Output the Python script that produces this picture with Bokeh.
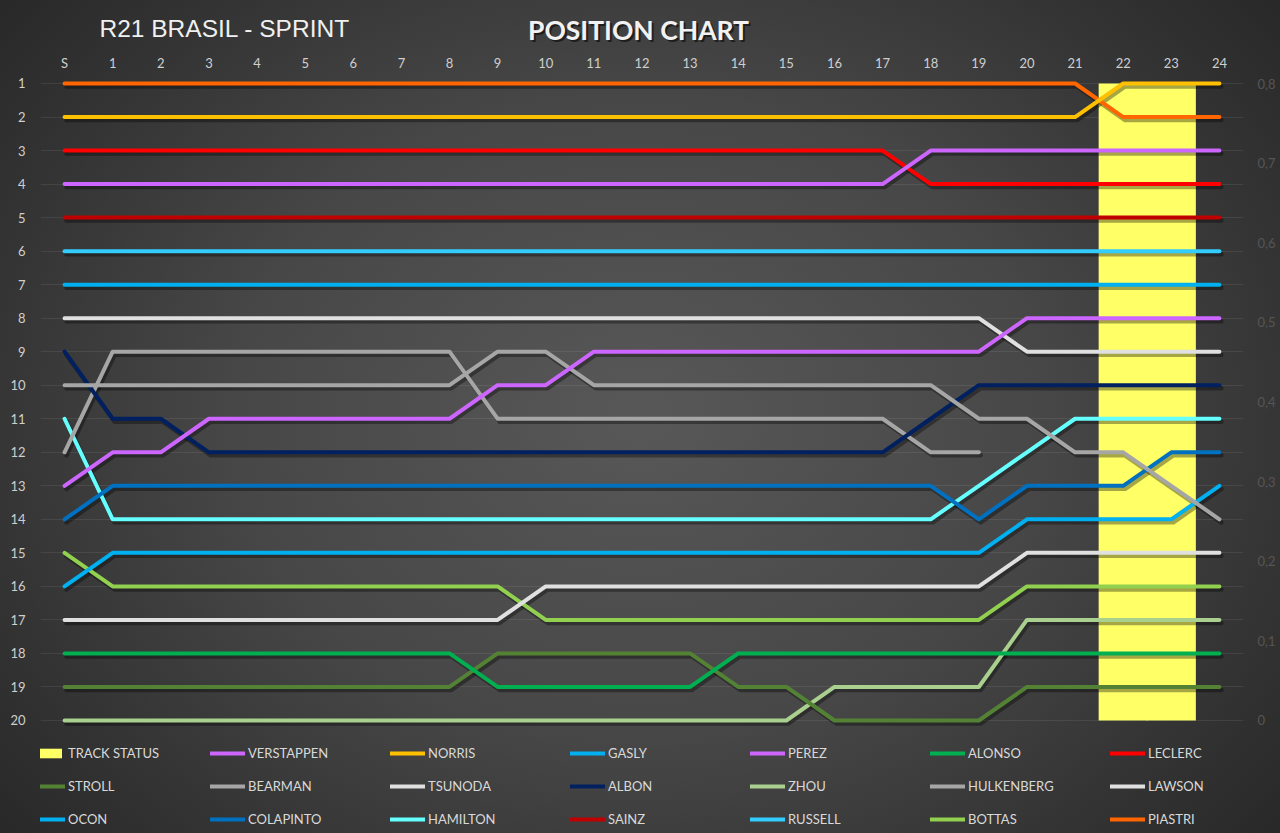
from bokeh.plotting import figure
from bokeh.layouts import column
from bokeh.models import Range1d, LinearAxis, FixedTicker, Legend, LegendItem, Label, ColumnDataSource
from bokeh.transform import dodge
from bokeh.embed import file_html
from bokeh.resources import INLINE

nan = float("nan")

# ---------------- data ----------------
laps = [0, 1, 2, 3, 4, 5, 6, 7, 8, 9, 10, 11, 12, 13, 14, 15, 16, 17, 18, 19, 20, 21, 22, 23, 24]
lap_labels = ["S", "1", "2", "3", "4", "5", "6", "7", "8", "9", "10", "11", "12",
              "13", "14", "15", "16", "17", "18", "19", "20", "21", "22", "23", "24"]
position_ticks = [1, 2, 3, 4, 5, 6, 7, 8, 9, 10, 11, 12, 13, 14, 15, 16, 17, 18, 19, 20]
status_ticks = [0, 0.1, 0.2, 0.3, 0.4, 0.5, 0.6, 0.7, 0.8]
status_labels = ["0", "0,1", "0,2", "0,3", "0,4", "0,5", "0,6", "0,7", "0,8"]

track_status = [0, 0, 0, 0, 0, 0, 0, 0, 0, 0, 0, 0, 0, 0, 0, 0, 0, 0, 0, 0, 0, 0, 0.8, 0.8, 0]

VERSTAPPEN = [4, 4, 4, 4, 4, 4, 4, 4, 4, 4, 4, 4, 4, 4, 4, 4, 4, 4, 3, 3, 3, 3, 3, 3, 3]
NORRIS     = [2, 2, 2, 2, 2, 2, 2, 2, 2, 2, 2, 2, 2, 2, 2, 2, 2, 2, 2, 2, 2, 2, 1, 1, 1]
GASLY      = [7, 7, 7, 7, 7, 7, 7, 7, 7, 7, 7, 7, 7, 7, 7, 7, 7, 7, 7, 7, 7, 7, 7, 7, 7]
PEREZ      = [13, 12, 12, 11, 11, 11, 11, 11, 11, 10, 10, 9, 9, 9, 9, 9, 9, 9, 9, 9, 8, 8, 8, 8, 8]
ALONSO     = [18, 18, 18, 18, 18, 18, 18, 18, 18, 19, 19, 19, 19, 19, 18, 18, 18, 18, 18, 18, 18, 18, 18, 18, 18]
LECLERC    = [3, 3, 3, 3, 3, 3, 3, 3, 3, 3, 3, 3, 3, 3, 3, 3, 3, 3, 4, 4, 4, 4, 4, 4, 4]
STROLL     = [19, 19, 19, 19, 19, 19, 19, 19, 19, 18, 18, 18, 18, 18, 19, 19, 20, 20, 20, 20, 19, 19, 19, 19, 19]
BEARMAN    = [10, 10, 10, 10, 10, 10, 10, 10, 10, 9, 9, 10, 10, 10, 10, 10, 10, 10, 10, 11, 11, 12, 12, 13, 14]
TSUNODA    = [17, 17, 17, 17, 17, 17, 17, 17, 17, 17, 16, 16, 16, 16, 16, 16, 16, 16, 16, 16, 15, 15, 15, 15, 15]
ALBON      = [9, 11, 11, 12, 12, 12, 12, 12, 12, 12, 12, 12, 12, 12, 12, 12, 12, 12, 11, 10, 10, 10, 10, 10, 10]
ZHOU       = [20, 20, 20, 20, 20, 20, 20, 20, 20, 20, 20, 20, 20, 20, 20, 20, 19, 19, 19, 19, 17, 17, 17, 17, 17]
HULKENBERG = [12, 9, 9, 9, 9, 9, 9, 9, 9, 11, 11, 11, 11, 11, 11, 11, 11, 11, 12, 12, nan, nan, nan, nan, nan]
LAWSON     = [8, 8, 8, 8, 8, 8, 8, 8, 8, 8, 8, 8, 8, 8, 8, 8, 8, 8, 8, 8, 9, 9, 9, 9, 9]
OCON       = [16, 15, 15, 15, 15, 15, 15, 15, 15, 15, 15, 15, 15, 15, 15, 15, 15, 15, 15, 15, 14, 14, 14, 14, 13]
COLAPINTO  = [14, 13, 13, 13, 13, 13, 13, 13, 13, 13, 13, 13, 13, 13, 13, 13, 13, 13, 13, 14, 13, 13, 13, 12, 12]
HAMILTON   = [11, 14, 14, 14, 14, 14, 14, 14, 14, 14, 14, 14, 14, 14, 14, 14, 14, 14, 14, 13, 12, 11, 11, 11, 11]
SAINZ      = [5, 5, 5, 5, 5, 5, 5, 5, 5, 5, 5, 5, 5, 5, 5, 5, 5, 5, 5, 5, 5, 5, 5, 5, 5]
RUSSELL    = [6, 6, 6, 6, 6, 6, 6, 6, 6, 6, 6, 6, 6, 6, 6, 6, 6, 6, 6, 6, 6, 6, 6, 6, 6]
BOTTAS     = [15, 16, 16, 16, 16, 16, 16, 16, 16, 16, 17, 17, 17, 17, 17, 17, 17, 17, 17, 17, 16, 16, 16, 16, 16]
PIASTRI    = [1, 1, 1, 1, 1, 1, 1, 1, 1, 1, 1, 1, 1, 1, 1, 1, 1, 1, 1, 1, 1, 1, 2, 2, 2]

# legend order (row by row)
drivers = ["VERSTAPPEN", "NORRIS", "GASLY", "PEREZ", "ALONSO", "LECLERC",
           "STROLL", "BEARMAN", "TSUNODA", "ALBON", "ZHOU", "HULKENBERG", "LAWSON",
           "OCON", "COLAPINTO", "HAMILTON", "SAINZ", "RUSSELL", "BOTTAS", "PIASTRI"]
series = {"VERSTAPPEN": VERSTAPPEN, "NORRIS": NORRIS, "GASLY": GASLY, "PEREZ": PEREZ,
          "ALONSO": ALONSO, "LECLERC": LECLERC, "STROLL": STROLL, "BEARMAN": BEARMAN,
          "TSUNODA": TSUNODA, "ALBON": ALBON, "ZHOU": ZHOU, "HULKENBERG": HULKENBERG,
          "LAWSON": LAWSON, "OCON": OCON, "COLAPINTO": COLAPINTO, "HAMILTON": HAMILTON,
          "SAINZ": SAINZ, "RUSSELL": RUSSELL, "BOTTAS": BOTTAS, "PIASTRI": PIASTRI}
colors = {"VERSTAPPEN": "#CC66FF", "NORRIS": "#FFC000", "GASLY": "#00B0F0", "PEREZ": "#CC66FF",
          "ALONSO": "#00B050", "LECLERC": "#FF0000", "STROLL": "#548235", "BEARMAN": "#A6A6A6",
          "TSUNODA": "#E0E0E0", "ALBON": "#002060", "ZHOU": "#A9D08E", "HULKENBERG": "#A6A6A6",
          "LAWSON": "#E0E0E0", "OCON": "#00B0F0", "COLAPINTO": "#0070C0", "HAMILTON": "#66FFFF",
          "SAINZ": "#C00000", "RUSSELL": "#33CCFF", "BOTTAS": "#92D050", "PIASTRI": "#FF6600"}

title_left = "R21 BRASIL - SPRINT"
title_main = "POSITION CHART"

# ---------------- title strip (frame aligned with main frame: x in page pixels) ----------------
tfig = figure(frame_width=1203, frame_height=50, x_range=Range1d(40, 1243), y_range=Range1d(50, 0),
              min_border_left=40, min_border_right=37, min_border_top=0, min_border_bottom=0,
              x_axis_type=None, y_axis_type=None,
              output_backend="svg", toolbar_location=None)
tfig.background_fill_alpha = 0
tfig.border_fill_alpha = 0
tfig.outline_line_color = None
tfig.add_layout(Label(x=99, y=28, text=title_left, text_align="left", text_baseline="middle",
                      text_color="#f0f0f0", text_font="Liberation Sans", text_font_size="24.5px"))
tfig.add_layout(Label(x=640, y=31, text=title_main, text_align="center", text_baseline="middle",
                      text_color="#000000", text_alpha=0.55, text_font="Lato",
                      text_font_style="bold", text_font_size="26.5px"))
tfig.add_layout(Label(x=638, y=29, text=title_main, text_align="center", text_baseline="middle",
                      text_color="#f2f2f2", text_font="Lato",
                      text_font_style="bold", text_font_size="26.5px"))

# ---------------- main figure ----------------
p = figure(frame_width=1203, frame_height=755,
           min_border_left=40, min_border_right=37, min_border_top=28, min_border_bottom=0,
           x_range=Range1d(-0.5, 24.5), y_range=Range1d(23.371, 0.8509),
           x_axis_location="above", output_backend="svg", toolbar_location=None)
p.background_fill_alpha = 0
p.border_fill_alpha = 0
p.outline_line_color = None
p.extra_y_ranges = {"status": Range1d(-0.14194, 0.80628)}

lab_font = "Lato"
xa = p.xaxis[0]
xa.ticker = FixedTicker(ticks=laps)
xa.major_label_overrides = {k: v for k, v in zip(laps, lap_labels)}
ya = p.yaxis[0]
ya.ticker = FixedTicker(ticks=position_ticks)

ra = LinearAxis(y_range_name="status", ticker=FixedTicker(ticks=status_ticks),
                major_label_overrides={k: v for k, v in zip(status_ticks, status_labels)})
p.add_layout(ra, "right")

for ax in (xa, ya, ra):
    ax.axis_line_color = None
    ax.major_tick_line_color = None
    ax.minor_tick_line_color = None
    ax.major_tick_out = 0
    ax.major_tick_in = 0
    ax.minor_tick_out = 0
    ax.minor_tick_in = 0
    ax.major_label_text_color = "#cfcfcf"
    ax.major_label_text_font = lab_font
    ax.major_label_text_font_size = "13px"
xa.major_label_standoff = 8
ya.major_label_standoff = 15
ra.major_label_text_color = "#555555"
ra.major_label_standoff = 14

p.xgrid.visible = False
p.ygrid.ticker = FixedTicker(ticks=position_ticks)
p.ygrid.grid_line_color = "#ffffff"
p.ygrid.grid_line_alpha = 0.08

# track status band
status_src = ColumnDataSource(dict(x=laps, top=track_status))
status_r = p.vbar(x="x", top="top", bottom=0, width=1.02, source=status_src,
                  y_range_name="status", fill_color="#FFFF66", line_color=None)

items = [LegendItem(label="TRACK STATUS", renderers=[status_r])]
renderers = {}
draw_order = list(reversed(drivers))
for d in draw_order:
    src = ColumnDataSource(dict(x=laps, y=series[d]))
    p.line(x=dodge("x", 0.04), y=dodge("y", 0.09), source=src, line_color="#000000",
           line_alpha=0.35, line_width=4.5, line_cap="round", line_join="round")
for d in draw_order:
    src = ColumnDataSource(dict(x=laps, y=series[d]))
    renderers[d] = p.line(x="x", y="y", source=src, line_color=colors[d], line_width=4,
                          line_cap="round", line_join="round")
for d in drivers:
    items.append(LegendItem(label=d, renderers=[renderers[d]]))

legend = Legend(items=items, orientation="horizontal", ncols=7, location=(-10, 6),
                glyph_width=35, glyph_height=12, label_height=12, label_width=125,
                label_standoff=3, spacing=17, padding=0, margin=0,
                background_fill_alpha=0, border_line_alpha=0,
                label_text_color="#d9d9d9", label_text_font=lab_font,
                label_text_font_size="13px")
p.add_layout(legend)

layout = column(tfig, p, spacing=0)
layout.styles = {"background": "radial-gradient(ellipse 70% 85% at 50% 50%, #585858 0%, #474747 45%, #333333 75%, #242424 100%)"}

open("out.html", "w").write(file_html(layout, INLINE))
